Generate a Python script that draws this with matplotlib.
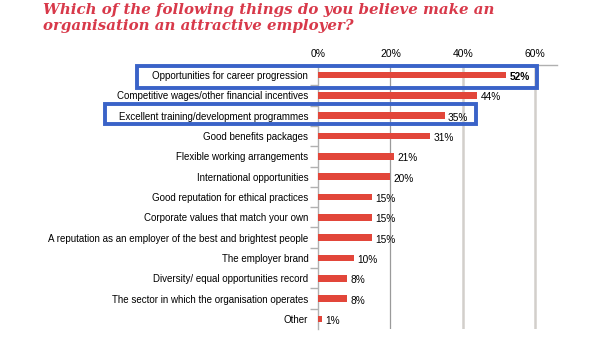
import matplotlib.pyplot as plt
from matplotlib.patches import Rectangle

categories = [
    'Opportunities for career progression',
    'Competitive wages/other financial incentives',
    'Excellent training/development programmes',
    'Good benefits packages',
    'Flexible working arrangements',
    'International opportunities',
    'Good reputation for ethical practices',
    'Corporate values that match your own',
    'A reputation as an employer of the best and brightest people',
    'The employer brand',
    'Diversity/ equal opportunities record',
    'The sector in which the organisation operates',
    'Other',
]
values = [52, 44, 35, 31, 21, 20, 15, 15, 15, 10, 8, 8, 1]
ticks = [0, 20, 40, 60]
tick_labels = ['0%', '20%', '40%', '60%']

red = '#e2463a'
blue = '#3a63c8'

plt.rcParams['font.family'] = ['Liberation Sans', 'DejaVu Sans']

fig = plt.figure(figsize=(5.9, 3.45), dpi=100)
ax = fig.add_axes([0.539, 0.046, 0.405, 0.766])

y = list(range(len(categories)))
ax.barh(y, values, height=0.34, color=red, zorder=3)
ax.set_xlim(0, 66)
ax.set_ylim(len(categories) - 0.5, -0.5)

# gridlines
ax.axvline(20, color='#9a9a9a', lw=0.9, zorder=1)
for t in [40, 60]:
    ax.axvline(t, color='#d2cfcb', lw=1.8, zorder=1)

ax.xaxis.tick_top()
ax.set_xticks(ticks)
ax.set_xticklabels(tick_labels, fontsize=7.5)
ax.tick_params(axis='x', length=0, pad=4)

ax.set_yticks(y)
ax.set_yticklabels(categories, fontsize=7)
ax.set_yticks([i + 0.5 for i in y[:-1]] + [-0.5], minor=True)
ax.tick_params(axis='y', which='major', length=0, pad=7)
ax.tick_params(axis='y', which='minor', length=6, color='#b0b0b0', width=1)

for side in ['right', 'bottom']:
    ax.spines[side].set_visible(False)
for side in ['left', 'top']:
    ax.spines[side].set_color('#b0b0b0')
    ax.spines[side].set_linewidth(1)

for i, v in enumerate(values):
    ax.text(v + 0.9, i + 0.1, f'{v}%', va='center', ha='left', fontsize=7.3,
            fontweight='bold' if i == 0 else 'normal', zorder=5)

# highlight boxes (figure pixel coordinates)
W, H = 590, 345
boxes = [(137, 66, 537, 88), (105, 104, 476, 124)]
for x0, y0, x1, y1 in boxes:
    fig.patches.append(Rectangle((x0 / W, 1 - y1 / H), (x1 - x0) / W, (y1 - y0) / H,
                                 transform=fig.transFigure, fill=False,
                                 edgecolor=blue, lw=2.8, zorder=10))

fig.text(43 / W, 1 - 3 / H,
         'Which of the following things do you believe make an\norganisation an attractive employer?',
         ha='left', va='top', fontsize=10.8, color='#d8394a', family='DejaVu Serif',
         fontweight='bold', fontstyle='italic', linespacing=1.2)

fig.savefig('out.png', dpi=100)
